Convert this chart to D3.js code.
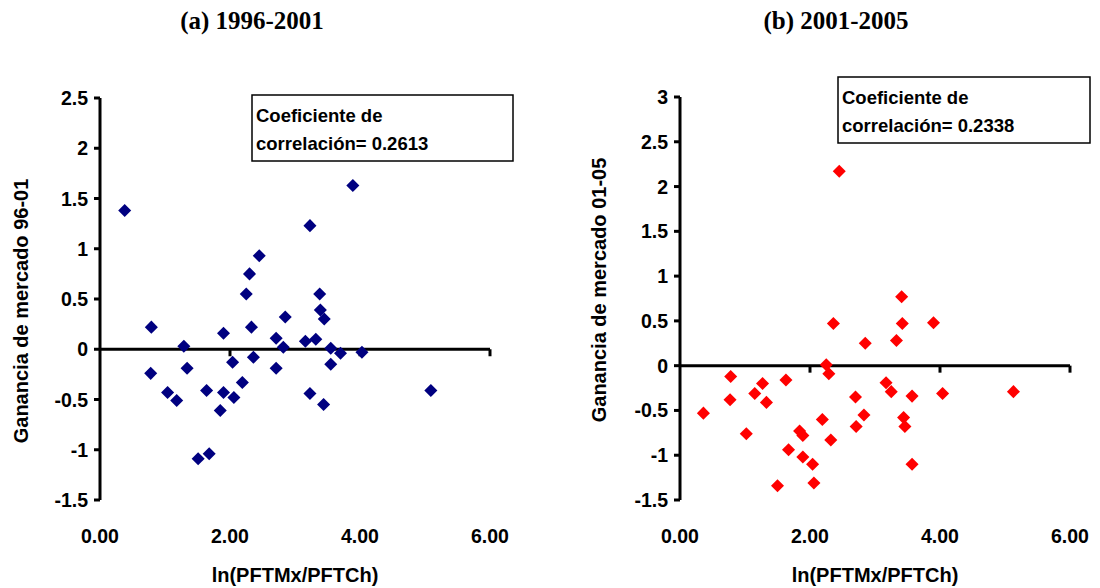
<!DOCTYPE html><html><head><meta charset="utf-8"><script src="https://cdn.jsdelivr.net/npm/d3@7"></script>
<style>body{margin:0;background:#fff}text{font-family:"Liberation Sans",Arial,sans-serif;font-weight:700}</style></head><body><svg width="1100" height="588"></svg>
<script>
const xA=[0.38,0.79,0.78,1.04,1.18,1.29,1.34,1.51,1.64,1.68,1.85,1.90,1.90,2.04,2.06,2.19,2.25,2.30,2.33,2.36,2.45,2.71,2.71,2.82,2.85,3.16,3.23,3.23,3.32,3.38,3.39,3.45,3.44,3.55,3.55,3.70,3.89,4.03,5.09];
const yA=[1.38,0.22,-0.24,-0.43,-0.51,0.03,-0.19,-1.09,-0.41,-1.04,-0.61,0.16,-0.43,-0.13,-0.48,-0.33,0.55,0.75,0.22,-0.08,0.93,0.11,-0.19,0.02,0.32,0.08,1.23,-0.44,0.10,0.55,0.39,0.30,-0.55,0.01,-0.15,-0.04,1.63,-0.03,-0.41];
const xB=[0.36,0.78,0.77,1.02,1.15,1.27,1.33,1.50,1.63,1.67,1.84,1.89,1.89,2.04,2.06,2.19,2.25,2.29,2.32,2.36,2.45,2.70,2.71,2.83,2.85,3.17,3.25,3.33,3.41,3.42,3.44,3.46,3.57,3.57,3.90,4.04,5.13];
const yB=[-0.53,-0.12,-0.38,-0.76,-0.31,-0.20,-0.41,-1.34,-0.16,-0.94,-0.73,-0.78,-1.02,-1.10,-1.31,-0.60,0.01,-0.09,-0.83,0.47,2.17,-0.35,-0.68,-0.55,0.25,-0.19,-0.29,0.28,0.77,0.47,-0.58,-0.68,-0.34,-1.10,0.48,-0.31,-0.29];
const xTicks=[0,2,4,6];
const yTicksA=[-1.5,-1,-0.5,0,0.5,1,1.5,2,2.5];
const yTicksB=[-1.5,-1,-0.5,0,0.5,1,1.5,2,2.5,3];
const svg=d3.select("svg");
function panel(o){
  const x=d3.scaleLinear().domain([0,6]).range([o.x0,o.x0+390]);
  const y=d3.scaleLinear().domain(o.yd).range([500,o.yTop]);
  const g=svg.append("g");
  g.append("text").attr("x",o.tx).attr("y",29).attr("text-anchor","middle").style("font-family","'Liberation Serif',serif").style("font-size","25px").text(o.title);
  g.append("line").attr("x1",x(0)).attr("x2",x(0)).attr("y1",y(o.yd[1])).attr("y2",500).attr("stroke","#000").attr("stroke-width",3);
  o.yt.forEach(t=>{g.append("line").attr("x1",x(0)-6).attr("x2",x(0)).attr("y1",y(t)).attr("y2",y(t)).attr("stroke","#000").attr("stroke-width",3);
    g.append("text").attr("x",x(0)-12).attr("y",y(t)+7).attr("text-anchor","end").style("font-size","19.5px").text(t);});
  g.append("line").attr("x1",x(0)).attr("x2",x(6)).attr("y1",y(0)).attr("y2",y(0)).attr("stroke","#000").attr("stroke-width",3);
  xTicks.forEach(t=>{ if(t>0) g.append("line").attr("x1",x(t)).attr("x2",x(t)).attr("y1",y(0)).attr("y2",y(0)+7).attr("stroke","#000").attr("stroke-width",3);
    g.append("text").attr("x",x(t)).attr("y",543).attr("text-anchor","middle").style("font-size","19.5px").text(t.toFixed(2));});
  g.append("text").attr("x",x(3)).attr("y",582).attr("text-anchor","middle").style("font-size","20px").text("ln(PFTMx/PFTCh)");
  g.append("text").attr("transform",`translate(${o.lx},${o.ly}) rotate(-90)`).attr("text-anchor","middle").style("font-size","20px").text(o.ylab);
  g.selectAll("path.p").data(o.xs.map((v,i)=>[v,o.ys[i]])).enter().append("path")
    .attr("d",d3.symbol().type(d3.symbolSquare).size(85)).attr("transform",d=>`translate(${x(d[0])},${y(d[1])}) rotate(45)`).attr("fill",o.color);
  g.append("rect").attr("x",o.bx).attr("y",o.by).attr("width",o.bw).attr("height",66).attr("fill","#fff").attr("stroke","#000").attr("stroke-width",1.5);
  g.append("text").attr("x",o.bx+4).attr("y",o.by+27).style("font-size","18.5px").text("Coeficiente de");
  g.append("text").attr("x",o.bx+4).attr("y",o.by+55).style("font-size","18.5px").text(o.coef);
}
panel({x0:100,yd:[-1.5,2.5],yTop:98,yt:yTicksA,xs:xA,ys:yA,color:"#000080",title:"(a) 1996-2001",tx:252,lx:28,ly:311,ylab:"Ganancia de mercado 96-01",bx:252,by:95,bw:261,coef:"correlación= 0.2613"});
panel({x0:680,yd:[-1.5,3],yTop:97,yt:yTicksB,xs:xB,ys:yB,color:"#ff0000",title:"(b) 2001-2005",tx:836,lx:606,ly:290,ylab:"Ganancia de mercado  01-05",bx:838,by:77,bw:252,coef:"correlación= 0.2338"});
</script></body></html>
